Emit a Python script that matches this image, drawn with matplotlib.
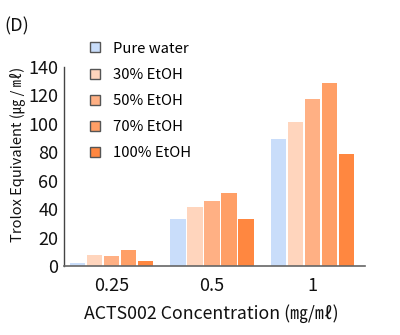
import matplotlib
matplotlib.use("Agg")
import matplotlib.pyplot as plt
from matplotlib.patches import Patch
import numpy as np

plt.rcParams['font.family'] = ['Noto Sans CJK KR', 'DejaVu Sans']

# ======================
# DATA
# ======================
concentrations = ["0.25", "0.5", "1"]
solvents = ["Pure water", "30% EtOH", "50% EtOH", "70% EtOH", "100% EtOH"]
pure_water = [1.8, 32.9, 89.2]
etoh_30 = [7.5, 41.8, 101.6]
etoh_50 = [7.0, 46.0, 117.6]
etoh_70 = [11.3, 51.2, 128.7]
etoh_100 = [3.5, 32.9, 78.9]

colors = ["#c9ddfa", "#ffd5bd", "#ffb084", "#ff9f66", "#ff8740"]

# ======================
# DRAW
# ======================
fig = plt.figure(figsize=(4.0, 3.35), dpi=100)
ax = fig.add_axes([0.16, 0.206, 0.7525, 0.594])

x = np.arange(len(concentrations))
series = [pure_water, etoh_30, etoh_50, etoh_70, etoh_100]
pitch = 0.169
width = 0.152
for i, vals in enumerate(series):
    ax.bar(x + (i - 2) * pitch, vals, width=width, color=colors[i],
           edgecolor="none", zorder=2)

ax.set_xlim(-0.47, 2.52)
ax.set_ylim(0, 140)
ax.set_yticks(range(0, 141, 20))
ax.set_xticks(x)
ax.set_xticklabels(concentrations)
ax.tick_params(length=0, labelsize=13, colors="#111111", pad=4)
ax.tick_params(axis="x", pad=8)

for s in ["top", "right"]:
    ax.spines[s].set_visible(False)
ax.spines["left"].set_color("#444444")
ax.spines["bottom"].set_color("#666666")
ax.spines["left"].set_linewidth(1.0)
ax.spines["bottom"].set_linewidth(1.2)

ax.set_xlabel("ACTS002 Concentration (㎎/㎖)", fontsize=12.8, color="#111111")
ax.xaxis.set_label_coords(0.49, -0.19)
ax.set_ylabel("Trolox Equivalent (㎍ / ㎖)", fontsize=10.5, color="#111111")
ax.yaxis.set_label_coords(-0.13, 0.56)

handles = [Patch(facecolor=c, edgecolor="#555555", linewidth=1.0) for c in colors]
fig.legend(handles, solvents, loc="upper left", bbox_to_anchor=(0.207, 0.898),
           frameon=False, fontsize=10.7, handlelength=0.65, handleheight=0.65,
           handletextpad=0.85, labelspacing=0.82, borderpad=0)

fig.text(0.012, 0.905, "(D)", fontsize=13, color="#111111")

plt.savefig("out.png", dpi=100)
